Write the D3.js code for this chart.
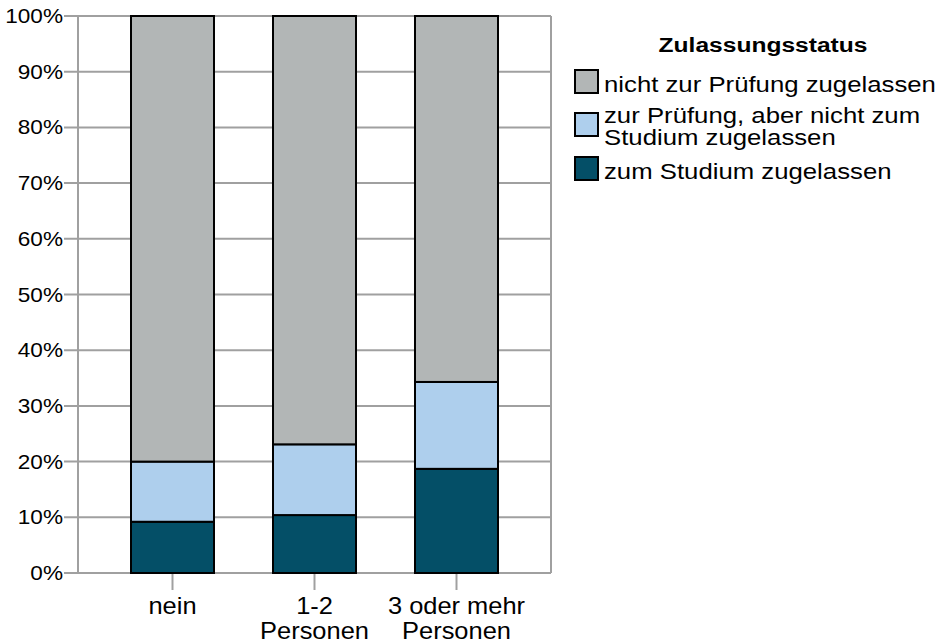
<!DOCTYPE html>
<html>
<head>
<meta charset="utf-8">
<script src="https://cdn.jsdelivr.net/npm/d3@7"></script>
<style>
  body { margin: 0; background: #fff; }
  text { font-family: "Liberation Sans", Arial, sans-serif; fill: #000; }
</style>
</head>
<body>
<div id="chart"></div>
<script>
// Categories (x axis), each label split into lines
const categories = ["nein", "1-2 Personen", "3 oder mehr Personen"];
const categoryLines = [["nein"], ["1-2", "Personen"], ["3 oder mehr", "Personen"]];

// Series values in percent (bottom to top)
const zumStudium     = [9.2, 10.4, 18.7];
const zurPruefung    = [10.8, 12.7, 15.6];
const nichtPruefung  = [80.0, 76.9, 65.7];

const seriesKeys  = ["zum", "pruef", "nicht"];
const seriesNames = {
  nicht: ["nicht zur Prüfung zugelassen"],
  pruef: ["zur Prüfung, aber nicht zum", "Studium zugelassen"],
  zum:   ["zum Studium zugelassen"]
};
const yTicks = [0, 10, 20, 30, 40, 50, 60, 70, 80, 90, 100];
const legendTitle = "Zulassungsstatus";

const rows = categories.map((c, i) => ({
  cat: c, zum: zumStudium[i], pruef: zurPruefung[i], nicht: nichtPruefung[i]
}));

const W = 938, H = 643;
const plot = { left: 78, right: 551, top: 16, bottom: 573 };

const svg = d3.select("#chart").append("svg")
  .attr("width", W).attr("height", H);

const x = d3.scalePoint().domain(categories)
  .range([plot.left, plot.right]).padding(0.6655);
const y = d3.scaleLinear().domain([0, 100]).range([plot.bottom, plot.top]);
const color = d3.scaleOrdinal().domain(seriesKeys)
  .range(["#044f67", "#aecfed", "#b2b6b6"]);

const gridColor = "#a0a0a0";

// the source text is a bit wider than Liberation Sans, so stretch it sideways
const place = (px, py, sx) => `translate(${px},${py}) scale(${sx},1)`;

// horizontal grid + y tick marks
svg.append("g").selectAll("line").data(yTicks).join("line")
  .attr("x1", plot.left - 14).attr("x2", plot.right)
  .attr("y1", d => y(d)).attr("y2", d => y(d))
  .attr("stroke", gridColor).attr("stroke-width", 2);

// plot border (left / right)
svg.append("line").attr("x1", plot.left).attr("x2", plot.left)
  .attr("y1", plot.top).attr("y2", plot.bottom)
  .attr("stroke", gridColor).attr("stroke-width", 2);
svg.append("line").attr("x1", plot.right).attr("x2", plot.right)
  .attr("y1", plot.top).attr("y2", plot.bottom)
  .attr("stroke", gridColor).attr("stroke-width", 2);

// y tick labels
svg.append("g").selectAll("text").data(yTicks).join("text")
  .attr("transform", d => place(plot.left - 15, y(d) + 7, 1.13))
  .attr("text-anchor", "end").style("font-size", "20px")
  .text(d => d + "%");

// x ticks
svg.append("g").selectAll("line").data(categories).join("line")
  .attr("x1", d => x(d)).attr("x2", d => x(d))
  .attr("y1", plot.bottom).attr("y2", plot.bottom + 17)
  .attr("stroke", gridColor).attr("stroke-width", 2);

// x labels
const xl = svg.append("g").selectAll("text").data(categories).join("text")
  .attr("transform", d => place(x(d), 614, 1.06))
  .attr("text-anchor", "middle").style("font-size", "24px");
xl.each(function(d, i) {
  d3.select(this).selectAll("tspan").data(categoryLines[i]).join("tspan")
    .attr("x", 0).attr("y", (t, j) => j * 25)
    .text(t => t);
});

// stacked bars
const stack = d3.stack().keys(seriesKeys)(rows);
const barW = 83;
svg.append("g").selectAll("g").data(stack).join("g")
  .attr("fill", d => color(d.key))
  .selectAll("rect").data(d => d).join("rect")
  .attr("x", d => x(d.data.cat) - barW / 2)
  .attr("width", barW)
  .attr("y", d => y(d[1]))
  .attr("height", d => y(d[0]) - y(d[1]))
  .attr("stroke", "#000").attr("stroke-width", 2);

// legend
const legend = svg.append("g");
legend.append("text")
  .attr("transform", place(763, 52, 1.17))
  .attr("text-anchor", "middle")
  .style("font-size", "21px").style("font-weight", "bold")
  .text(legendTitle);

const legendOrder = ["nicht", "pruef", "zum"];
const legendTop = [70, 113, 157];
legendOrder.forEach((k, i) => {
  const g = legend.append("g").attr("transform", `translate(575,${legendTop[i]})`);
  g.append("rect").attr("width", 23).attr("height", 23)
    .attr("fill", color(k)).attr("stroke", "#000").attr("stroke-width", 2);
  const lines = seriesNames[k];
  const base = lines.length > 1 ? 10 : 22;
  g.append("text").style("font-size", "22px")
    .attr("transform", place(29, base, 1.17))
    .selectAll("tspan").data(lines).join("tspan")
    .attr("x", 0).attr("y", (t, j) => j * 22)
    .text(t => t);
});
</script>
</body>
</html>
